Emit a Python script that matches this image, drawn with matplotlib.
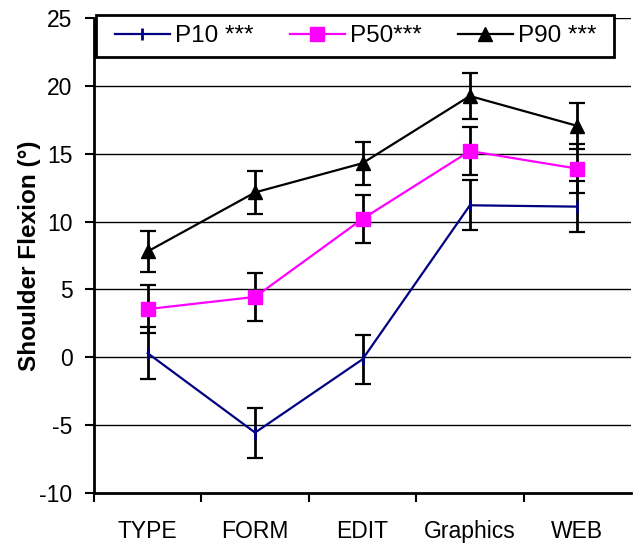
import numpy as np
import matplotlib
matplotlib.use('Agg')
from matplotlib import pyplot as plt
from matplotlib.patches import Rectangle

plt.rcParams['font.family'] = ['Liberation Sans', 'DejaVu Sans']
plt.rcParams['axes.unicode_minus'] = False

tasks = ['TYPE', 'FORM', 'EDIT', 'Graphics', 'WEB']
p10 = [0.3, -5.55, -0.15, 11.2, 11.1]
p10_err = [1.9, 1.85, 1.8, 1.85, 1.9]
p50 = [3.55, 4.45, 10.2, 15.2, 13.9]
p50_err = [1.75, 1.75, 1.75, 1.8, 1.8]
p90 = [7.8, 12.15, 14.3, 19.25, 17.05]
p90_err = [1.5, 1.6, 1.6, 1.7, 1.7]
labels = ['P10 ***', 'P50***', 'P90 ***']

W, H = 634, 544
fig = plt.figure(figsize=(W / 100, H / 100), dpi=100)
ax = fig.add_axes([94 / W, 1 - 493 / H, 537 / W, 475 / H])

x = np.arange(1, len(tasks) + 1)

# gridlines
for v in range(-5, 30, 5):
    ax.axhline(v, color='black', lw=1, zorder=1)

series = [(p10, p10_err, '#000080', '|', 9, 2),
          (p50, p50_err, '#FF00FF', 's', 10.5, 1),
          (p90, p90_err, 'black', '^', 10.5, 1)]
for (vals, err, col, mk, ms, mew), lab in zip(series, labels):
    ax.errorbar(x, vals, yerr=err, fmt='none', ecolor='black', elinewidth=2,
                capsize=5.8, capthick=1.6, zorder=2)
    ax.plot(x, vals, color=col, lw=1.6, marker=mk, markersize=ms,
            markeredgewidth=mew, markeredgecolor=col, markerfacecolor=col,
            label=lab, zorder=3)

ax.set_xlim(0.5, 5.5)
ax.set_ylim(-10, 25)
ax.set_yticks(range(-10, 30, 5))
ax.set_xticks(np.arange(0.5, 5.5, 1))
ax.set_xticklabels([])
ax.set_xticks(x, minor=True)
ax.set_xticklabels(tasks, minor=True)
ax.tick_params(axis='x', which='minor', length=0, pad=19.5, labelsize=16.5)
ax.tick_params(axis='x', which='major', length=6.5, width=1.5, direction='out')
ax.tick_params(axis='y', length=6.5, width=1.5, pad=9, labelsize=16.5)

for s in ['top', 'right']:
    ax.spines[s].set_visible(False)
for s in ['left', 'bottom']:
    ax.spines[s].set_linewidth(2)

ax.set_ylabel('Shoulder Flexion (°)', fontsize=17.5, fontweight='bold')
ax.yaxis.set_label_coords(-0.099, 0.5)

# legend box
fig.patches.append(Rectangle((96 / W, 1 - 57 / H), 518 / W, 42 / H,
                             transform=fig.transFigure, facecolor='white',
                             edgecolor='black', lw=2, zorder=5))
leg = fig.legend(loc='center left', bbox_to_anchor=(115 / W, 1 - 36 / H),
                 ncol=3, fontsize=17.5, frameon=False, borderaxespad=0,
                 borderpad=0, handlelength=2.26, handletextpad=0.2,
                 columnspacing=1.5)
leg.set_zorder(6)

plt.savefig('out.png', dpi=100)
